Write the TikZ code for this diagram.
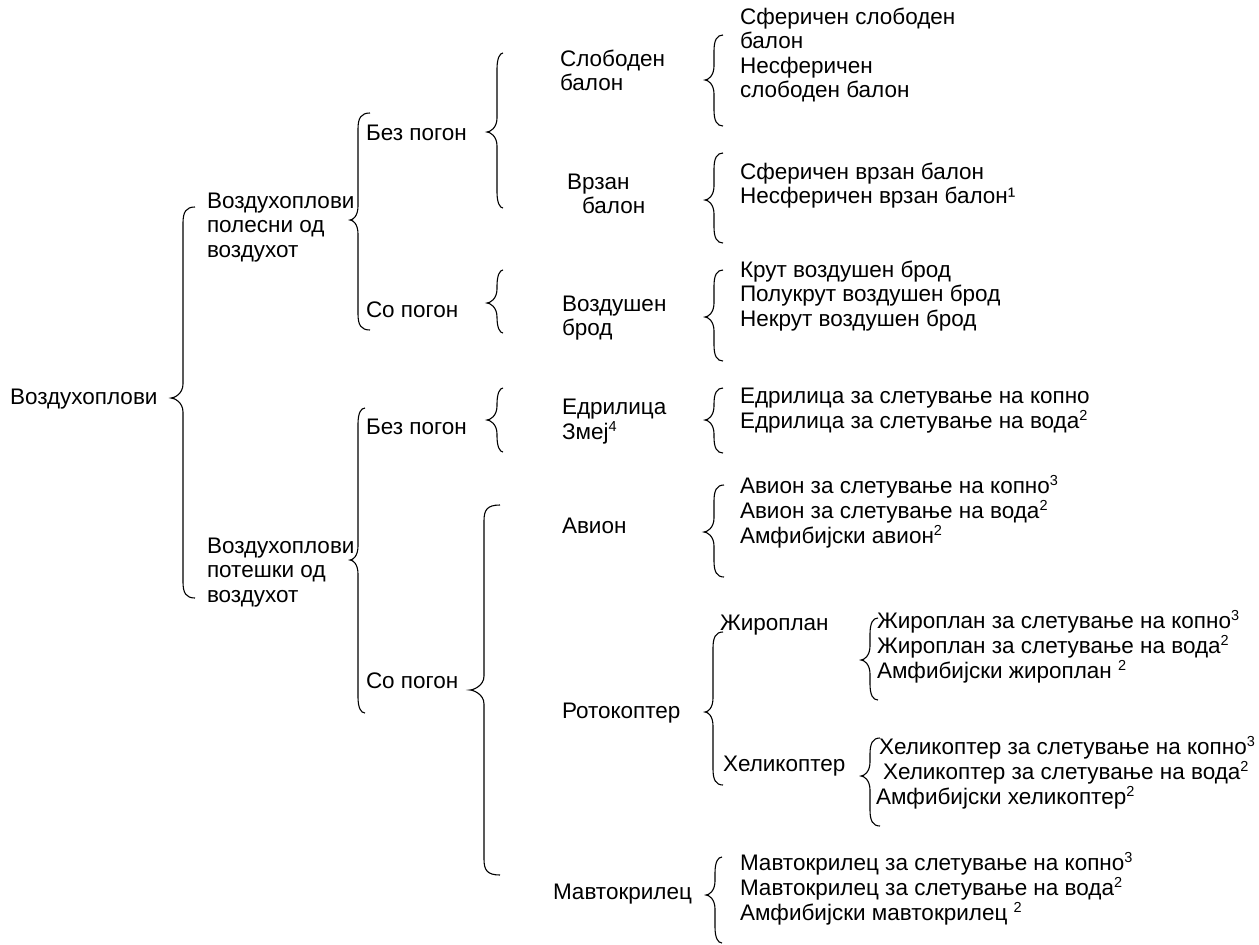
\documentclass[tikz,border=0pt]{standalone}
\usepackage{fontspec}
\setmainfont{Liberation Sans}
\newcommand{\lfont}{\fontsize{22.5}{24.5}\selectfont}
\newcommand{\mlines}[1]{\begin{tabular}[t]{@{}l@{}}#1\end{tabular}}
\newcommand{\supnum}[1]{\raisebox{8pt}{\fontsize{14.5}{14.5}\selectfont #1}}
% brace: #1 hook end x, #2 line x, #3 tip x, #4 top y, #5 tip y, #6 bottom y
\newcommand{\brc}[6]{%
  \draw[bracestyle] (#1,#4) .. controls ({#2+3},#4) and (#2,{#4+5}) .. (#2,{#4+16})
    -- (#2,{#5-14}) .. controls (#2,{#5-4}) and ({#3+3},#5) .. (#3,#5)
    .. controls ({#3+3},#5) and (#2,{#5+4}) .. (#2,{#5+14})
    -- (#2,{#6-16}) .. controls (#2,{#6-5}) and ({#2+3},#6) .. (#1,#6);}
\begin{document}
\begin{tikzpicture}[x=1pt,y=-1pt,
  lbl/.style={anchor=base west, inner sep=0pt, outer sep=0pt, font=\lfont},
  bracestyle/.style={draw=black, line width=1.1pt}]
\useasboundingbox[fill=white] (0,0) rectangle (1259,945);

% level 0
\node[lbl] (root) at (10,404) {Воздухоплови};
% level 1
\node[lbl] (light) at (207,208) {\mlines{Воздухоплови\\полесни од\\воздухот}};
\node[lbl] (heavy) at (207,553) {\mlines{Воздухоплови\\потешки од\\воздухот}};
% level 2
\node[lbl] (lnop) at (366,140) {Без погон};
\node[lbl] (lpow) at (366,317) {Со погон};
\node[lbl] (hnop) at (366,434) {Без погон};
\node[lbl] (hpow) at (366,688) {Со погон};
% level 3
\node[lbl] (free) at (560,66) {\mlines{Слободен\\балон}};
\node[lbl] (tied) at (567,189) {\mlines{Врзан\\\hspace*{15pt}балон}};
\node[lbl] (ship) at (562,311) {\mlines{Воздушен\\брод}};
\node[lbl] (glid) at (562,414) {\mlines{Едрилица\\Змеј\supnum{4}}};
\node[lbl] (plane) at (562,533) {Авион};
\node[lbl] (rotor) at (562,718) {Ротокоптер};
\node[lbl] (orni) at (553,899) {Мавтокрилец};
% level 4 (rotorcraft)
\node[lbl] (gyro) at (720,630) {Жироплан};
\node[lbl] (heli) at (723,771) {Хеликоптер};

% leaves
\node[lbl] (freeL) at (740,24) {\mlines{Сферичен слободен\\балон\\Несферичен\\слободен балон}};
\node[lbl] (tiedL) at (740,179) {\mlines{Сферичен врзан балон\\Несферичен врзан балон¹}};
\node[lbl] (shipL) at (740,277) {\mlines{Крут воздушен брод\\Полукрут воздушен брод\\Некрут воздушен брод}};
\node[lbl] (glidL) at (740,403) {\mlines{Едрилица за слетување на копно\\Едрилица за слетување на вода\supnum{2}}};
\node[lbl] (planeL) at (740,493) {\mlines{Авион за слетување на копно\supnum{3}\\Авион за слетување на вода\supnum{2}\\Амфибијски авион\supnum{2}}};
\node[lbl] (gyroL) at (877,628) {\mlines{Жироплан за слетување на копно\supnum{3}\\Жироплан за слетување на вода\supnum{2}\\Амфибијски жироплан \supnum{2}}};
\node[lbl] (heliL) at (879,754) {\mlines{Хеликоптер за слетување на копно\supnum{3}\\\hspace*{4pt}Хеликоптер за слетување на вода\supnum{2}\\\hspace*{-3pt}Амфибијски хеликоптер\supnum{2}}};
\node[lbl] (orniL) at (740,870) {\mlines{Мавтокрилец за слетување на копно\supnum{3}\\Мавтокрилец за слетување на вода\supnum{2}\\Амфибијски мавтокрилец \supnum{2}}};

% braces
\brc{195}{183}{171}{207}{398}{598}
\brc{370}{358}{350}{113}{220}{330}
\brc{365}{358}{350}{408}{560}{713}
\brc{503}{497}{487}{53}{132}{208}
\brc{503}{497}{487}{270}{303}{333}
\brc{503}{497}{487}{388}{420}{452}
\brc{500}{484}{470}{505}{690}{875}
\brc{723}{714}{705}{35}{80}{126}
\brc{723}{714}{705}{153}{200}{243}
\brc{723}{714}{705}{270}{317}{361}
\brc{723}{714}{705}{388}{420}{453}
\brc{724}{714}{704}{485}{532}{577}
\brc{723}{713}{705}{632}{712}{785}
\brc{878}{870}{861}{618}{660}{700}
\brc{880}{870}{861}{738}{776}{826}
\brc{722}{715}{706}{857}{895}{943}
\end{tikzpicture}
\end{document}
